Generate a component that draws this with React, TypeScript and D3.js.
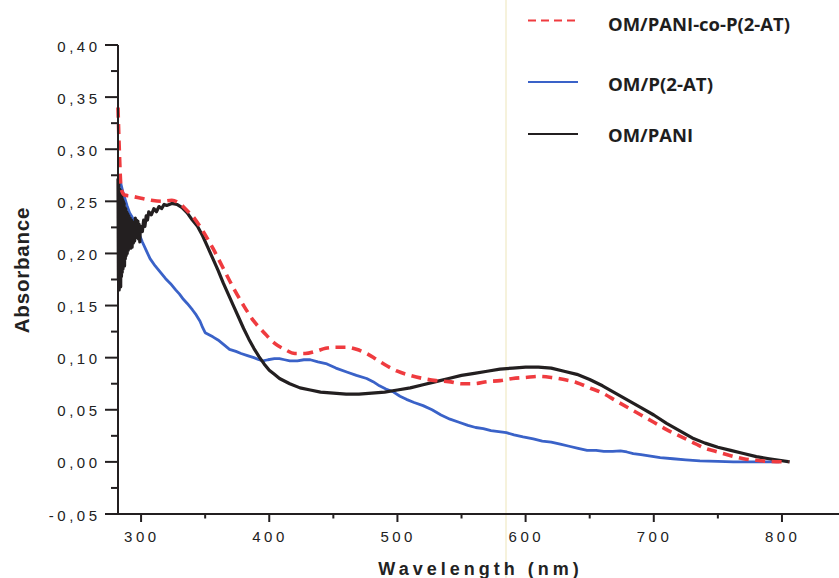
import React from "react";
import * as d3 from "d3";

// UV-Vis absorbance spectra (wavelength in nm, absorbance)
const copolymerWavelengths = [282, 283, 284.5, 287, 292, 300, 308, 316, 324, 330, 336, 342, 348, 356, 364, 372, 380, 388, 396, 404, 412, 420, 428, 436, 444, 452, 460, 468, 476, 484, 492, 500, 510, 520, 530, 540, 550, 560, 570, 580, 590, 600, 610, 620, 630, 640, 650, 660, 670, 680, 690, 700, 710, 720, 730, 740, 750, 760, 770, 780, 790, 805];
const copolymerAbsorbance = [0.34, 0.3, 0.262, 0.256, 0.255, 0.253, 0.251, 0.25, 0.251, 0.248, 0.241, 0.233, 0.222, 0.205, 0.186, 0.167, 0.15, 0.135, 0.124, 0.114, 0.108, 0.104, 0.104, 0.106, 0.109, 0.11, 0.11, 0.108, 0.104, 0.098, 0.092, 0.087, 0.083, 0.08, 0.078, 0.077, 0.075, 0.075, 0.077, 0.078, 0.08, 0.081, 0.082, 0.081, 0.079, 0.076, 0.071, 0.066, 0.059, 0.052, 0.045, 0.038, 0.031, 0.025, 0.019, 0.013, 0.0095, 0.006, 0.003, 0.0015, 0.0005, 0];

const p2atWavelengths = [283, 284, 286, 287.5, 289, 291, 293, 295, 298, 301, 304, 307, 311, 315, 319, 323, 327, 330, 333, 336, 340, 343, 346, 348, 350, 353, 356, 360, 365, 369, 374, 378, 383, 388, 392, 395, 399, 404, 408, 412, 416, 422, 427, 432, 438, 445, 452, 461, 468, 476, 481, 486, 491, 497, 502, 507, 513, 520, 527, 534, 541, 548, 555, 561, 567, 573, 579, 585, 591, 598, 606, 613, 620, 627, 634, 641, 648, 655, 661, 668, 674, 679, 684, 690, 695, 700, 705, 715, 725, 736, 750, 762, 780, 798];
const p2atAbsorbance = [0.272, 0.268, 0.258, 0.252, 0.246, 0.239, 0.235, 0.229, 0.22, 0.211, 0.203, 0.195, 0.188, 0.182, 0.176, 0.171, 0.165, 0.161, 0.156, 0.152, 0.146, 0.141, 0.135, 0.129, 0.124, 0.122, 0.12, 0.117, 0.112, 0.108, 0.106, 0.104, 0.102, 0.1, 0.098, 0.097, 0.098, 0.099, 0.099, 0.098, 0.097, 0.097, 0.098, 0.098, 0.096, 0.094, 0.09, 0.086, 0.083, 0.08, 0.077, 0.073, 0.07, 0.067, 0.063, 0.06, 0.057, 0.054, 0.05, 0.045, 0.041, 0.038, 0.035, 0.033, 0.032, 0.03, 0.029, 0.028, 0.026, 0.024, 0.022, 0.02, 0.019, 0.017, 0.015, 0.013, 0.011, 0.011, 0.01, 0.01, 0.0105, 0.0095, 0.008, 0.007, 0.006, 0.005, 0.004, 0.003, 0.002, 0.001, 0.0005, 0, 0, 0];

const paniWavelengths = [282, 282.3, 282.6, 282.9, 283.2, 283.5, 283.8, 284.1, 284.4, 284.7, 285, 285.3, 285.6, 285.9, 286.2, 286.5, 286.8, 287.1, 287.4, 287.7, 288, 288.4, 288.8, 289.2, 289.6, 290, 290.5, 291, 291.5, 292, 292.5, 293, 293.5, 294, 294.5, 295, 295.5, 296, 296.5, 297, 297.5, 298, 298.5, 299, 299.5, 300, 301, 302, 303, 304, 305, 306, 308, 310, 312, 314, 316, 318, 320, 324, 328, 332, 336, 340, 344, 348, 352, 356, 360, 364, 368, 372, 376, 380, 384, 388, 392, 396, 400, 404, 408, 416, 424, 432, 440, 450, 460, 470, 480, 490, 500, 510, 520, 530, 540, 550, 560, 570, 580, 590, 600, 610, 620, 630, 640, 650, 660, 670, 680, 690, 700, 710, 720, 730, 740, 750, 760, 770, 780, 790, 806];
const paniAbsorbance = [0.272, 0.175, 0.268, 0.165, 0.262, 0.17, 0.258, 0.168, 0.26, 0.178, 0.255, 0.182, 0.252, 0.185, 0.25, 0.19, 0.248, 0.188, 0.244, 0.195, 0.243, 0.198, 0.24, 0.2, 0.238, 0.203, 0.236, 0.207, 0.234, 0.205, 0.232, 0.206, 0.23, 0.21, 0.229, 0.212, 0.234, 0.215, 0.232, 0.218, 0.231, 0.214, 0.228, 0.211, 0.226, 0.222, 0.221, 0.232, 0.226, 0.236, 0.232, 0.24, 0.237, 0.243, 0.24, 0.245, 0.243, 0.247, 0.246, 0.248, 0.247, 0.244, 0.239, 0.232, 0.226, 0.217, 0.206, 0.195, 0.184, 0.172, 0.161, 0.15, 0.139, 0.128, 0.118, 0.109, 0.101, 0.094, 0.088, 0.084, 0.08, 0.075, 0.071, 0.069, 0.067, 0.066, 0.065, 0.065, 0.066, 0.067, 0.069, 0.071, 0.074, 0.077, 0.08, 0.083, 0.085, 0.087, 0.089, 0.09, 0.091, 0.091, 0.09, 0.087, 0.084, 0.079, 0.073, 0.066, 0.059, 0.052, 0.045, 0.037, 0.03, 0.023, 0.018, 0.014, 0.011, 0.008, 0.005, 0.003, 0];

const legendLabels = ["OM/PANI-co-P(2-AT)", "OM/P(2-AT)", "OM/PANI"];
const xTickValues = [300, 400, 500, 600, 700, 800];
const xMinorValues = [350, 450, 550, 650, 750];
const yTickValues = [-0.05, 0, 0.05, 0.1, 0.15, 0.2, 0.25, 0.3, 0.35, 0.4];
const yMinorValues = [-0.025, 0.025, 0.075, 0.125, 0.175, 0.225, 0.275, 0.325, 0.375];

const W = 839;
const H = 578;

type Pt = [number, number];
const zip = (xs: number[], ys: number[]): Pt[] => xs.map((x, i) => [x, ys[i]]);

export default function App() {
  const x = d3.scaleLinear().domain([282, 844.5]).range([118, 839]);
  const y = d3.scaleLinear().domain([-0.05, 0.4]).range([514, 45]);

  const smooth = d3
    .line<Pt>()
    .x((d) => x(d[0]))
    .y((d) => y(d[1]))
    .curve(d3.curveMonotoneX);
  const raw = d3
    .line<Pt>()
    .x((d) => x(d[0]))
    .y((d) => y(d[1]));

  const copolymer = zip(copolymerWavelengths, copolymerAbsorbance);
  const p2at = zip(p2atWavelengths, p2atAbsorbance);
  const pani = zip(paniWavelengths, paniAbsorbance);

  const axisColor = "#231f20";
  const red = "#ef3b3f";
  const blue = "#3a62c8";
  const black = "#231f20";
  const tickFont = "Arial, 'Liberation Sans', sans-serif";
  const ls = 3.5;
  const fmtY = (v: number) => d3.format(".2f")(v).replace(".", ",").replace("−", "-");

  const [x0, x1] = x.range();
  const [yb, yt] = y.range();

  const legendY = [20.5, 82, 134];
  const legendBase = [31, 90.5, 141.5];
  const legendWidths = [182, 105, 85];
  const legendStyles = [
    { stroke: red, dash: "8,5" },
    { stroke: blue, dash: undefined },
    { stroke: black, dash: undefined },
  ];

  return (
    <svg
      width={W}
      height={H}
      viewBox={`0 0 ${W} ${H}`}
      style={{ position: "absolute", left: 0, top: 0, background: "#fff" }}
    >
      <rect x={0} y={0} width={W} height={H} fill="#fff" />
      {/* legend panel edge */}
      <line x1={506} x2={506} y1={0} y2={H} stroke="#f6f2dc" strokeWidth={2} />

      {/* curves */}
      <path d={raw(p2at) ?? ""} fill="none" stroke={blue} strokeWidth={2.8} strokeLinejoin="round" />
      <path d={raw(pani) ?? ""} fill="none" stroke={black} strokeWidth={3.2} strokeLinejoin="round" />
      <path
        d={smooth(copolymer) ?? ""}
        fill="none"
        stroke={red}
        strokeWidth={3.6}
        strokeDasharray="10,6.5"
      />

      {/* y axis */}
      <line x1={x0} x2={x0} y1={yt} y2={yb} stroke={axisColor} strokeWidth={2} />
      {yTickValues.map((v) => (
        <g key={`yt${v}`}>
          <line x1={x0 - 13} x2={x0} y1={y(v)} y2={y(v)} stroke={axisColor} strokeWidth={2} />
          <text
            x={97 + ls}
            y={y(v) + 6.5}
            textAnchor="end"
            fontFamily={tickFont}
            fontSize={15}
            letterSpacing={ls}
            fill="#222"
          >
            {fmtY(v)}
          </text>
        </g>
      ))}
      {yMinorValues.map((v) => (
        <line key={`ym${v}`} x1={x0 - 7} x2={x0} y1={y(v)} y2={y(v)} stroke={axisColor} strokeWidth={2} />
      ))}

      {/* x axis */}
      <line x1={x0} x2={x1} y1={yb} y2={yb} stroke={axisColor} strokeWidth={2} />
      {xTickValues.map((v) => (
        <g key={`xt${v}`}>
          <line x1={x(v)} x2={x(v)} y1={yb} y2={yb + 8} stroke={axisColor} strokeWidth={2} />
          <text
            x={x(v) - 1 + ls / 2}
            y={542}
            textAnchor="middle"
            fontFamily={tickFont}
            fontSize={15}
            letterSpacing={ls}
            fill="#222"
          >
            {d3.format("d")(v)}
          </text>
        </g>
      ))}
      {xMinorValues.map((v) => (
        <line key={`xm${v}`} x1={x(v)} x2={x(v)} y1={yb} y2={yb + 4.5} stroke={axisColor} strokeWidth={2} />
      ))}

      {/* axis titles */}
      <text
        x={478.5 + 2}
        y={575}
        textAnchor="middle"
        fontFamily={tickFont}
        fontWeight="bold"
        fontSize={18}
        letterSpacing={4}
        fill="#222"
      >
        Wavelength (nm)
      </text>
      <text
        transform={`translate(28.5, 270) rotate(-90)`}
        textAnchor="middle"
        fontFamily={tickFont}
        fontWeight="bold"
        fontSize={20.5}
        letterSpacing={0.8}
        fill="#222"
      >
        Absorbance
      </text>

      {/* legend */}
      {legendLabels.map((label, i) => (
        <g key={label}>
          <line
            x1={528}
            x2={578}
            y1={legendY[i]}
            y2={legendY[i]}
            stroke={legendStyles[i].stroke}
            strokeWidth={2.2}
            strokeDasharray={legendStyles[i].dash}
          />
          <text
            x={608}
            y={legendBase[i]}
            fontFamily="'Open Sans', sans-serif"
            fontWeight={700}
            fontSize={18}
            textLength={legendWidths[i]}
            lengthAdjust="spacingAndGlyphs"
            fill="#1e1e1e"
          >
            {label}
          </text>
        </g>
      ))}
    </svg>
  );
}
